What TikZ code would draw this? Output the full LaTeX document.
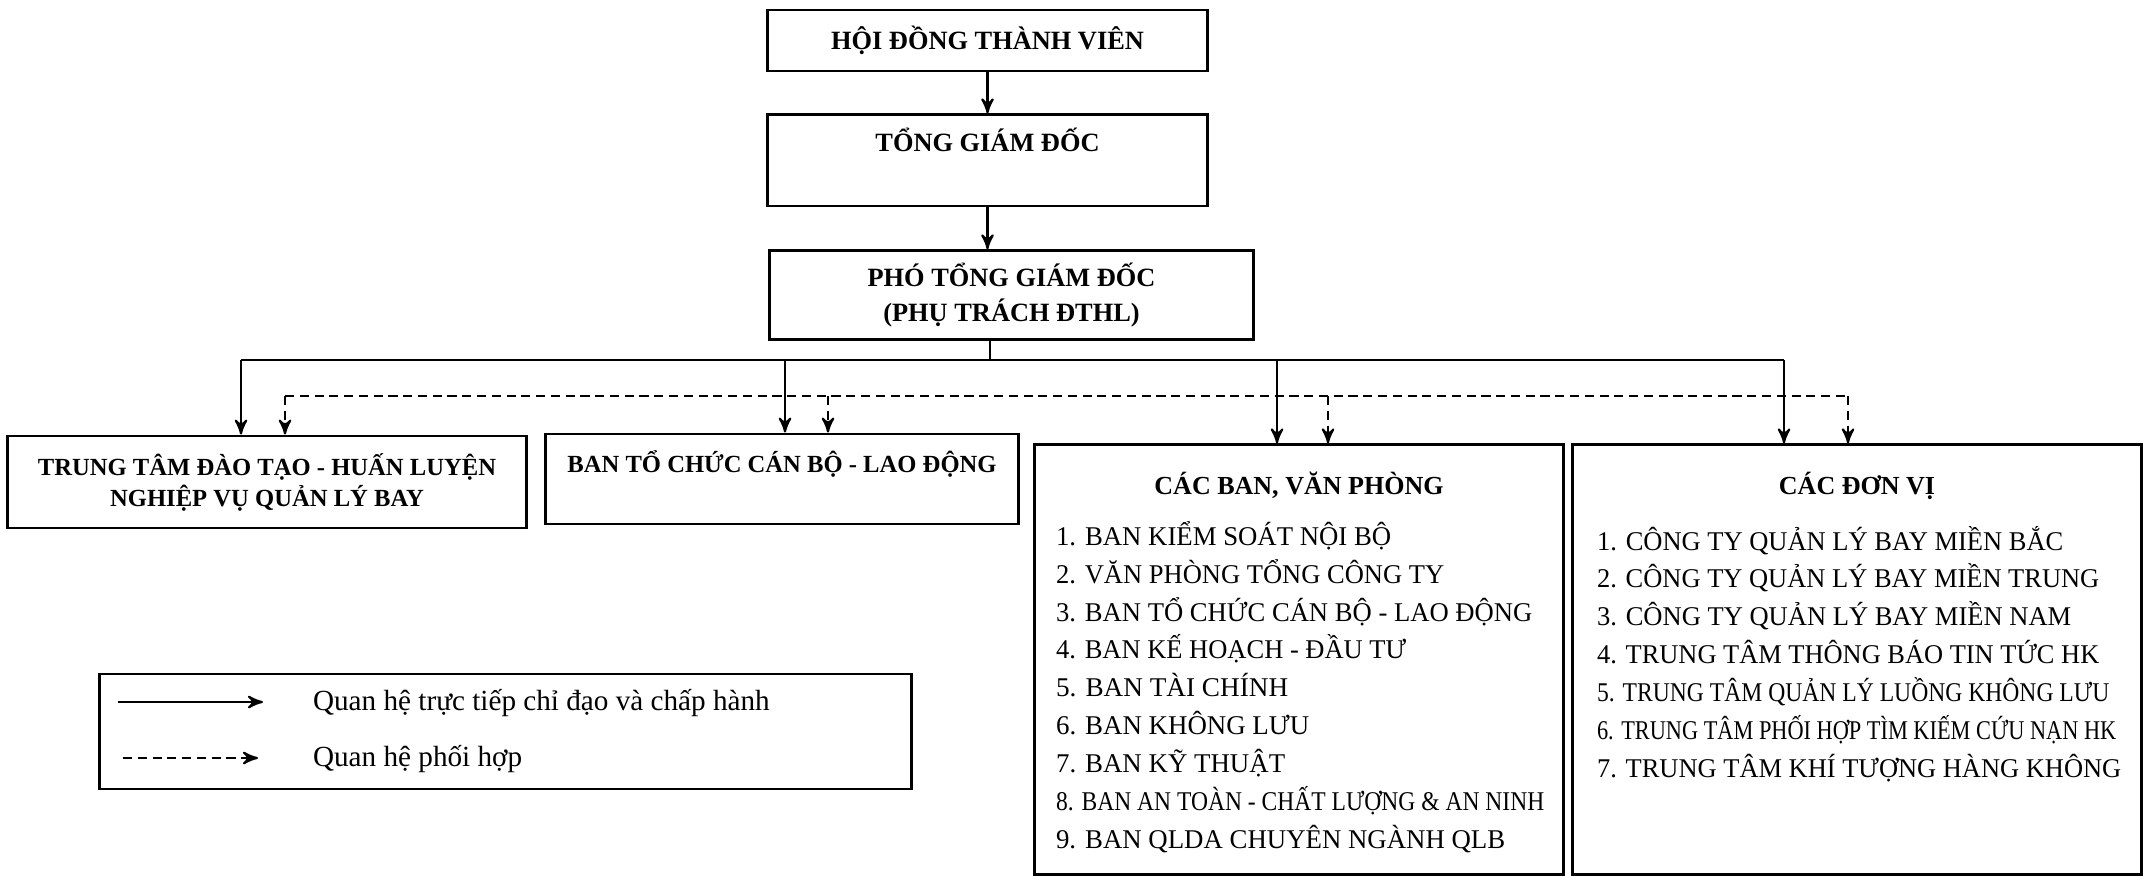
\documentclass[tikz,border=0pt]{standalone}
\usepackage{fontspec}
\setmainfont{Liberation Serif}
\usepackage{graphicx}
\usetikzlibrary{arrows,positioning}
\newcommand{\fitw}[2]{\resizebox{#1}{\height}{#2}}

\begin{document}
\begin{tikzpicture}[->,>=stealth',x=0.01cm,y=-0.01cm,line width=0.6pt,
                    unit/.style={draw,-,rectangle,line width=0.8pt,inner sep=0pt,
                                 align=center,font=\bfseries\fontsize{7.5}{10}\selectfont},
                    items/.style={align=left,inner sep=0pt,font=\fontsize{7.7}{10.75}\selectfont},
                    coop/.style={dash pattern=on 2.6pt off 1.6pt}]

        \useasboundingbox (0,0) rectangle (2151,876);

        \node[unit,minimum width=4.39cm,minimum height=0.61cm] (hdtv) at (987.5,40.5) {HỘI ĐỒNG THÀNH VIÊN};
        \node[unit,minimum width=4.40cm,minimum height=0.91cm,font=\bfseries\fontsize{7.5}{11.7}\selectfont] (tgd) [below=0.41cm of hdtv] {TỔNG GIÁM ĐỐC\\~};
        \node[unit,minimum width=4.84cm,minimum height=0.89cm] (ptgd) [below=0.42cm of tgd.south west,anchor=north west,xshift=0.02cm] {PHÓ TỔNG GIÁM ĐỐC\\(PHỤ TRÁCH ĐTHL)};

        \node[unit,minimum width=5.18cm,minimum height=0.92cm,font=\bfseries\fontsize{7}{8.8}\selectfont] (ttdt) at (267,482) {TRUNG TÂM ĐÀO TẠO - HUẤN LUYỆN\\NGHIỆP VỤ QUẢN LÝ BAY};
        \node[unit,minimum width=4.72cm,minimum height=0.90cm,font=\bfseries\fontsize{7}{9.7}\selectfont] (tccb) at (782,479) {BAN TỔ CHỨC CÁN BỘ - LAO ĐỘNG\\~};
        \node[unit,minimum width=5.28cm,minimum height=4.29cm] (cacban) at (1299,659.5) {};
        \node[unit,minimum width=5.68cm,minimum height=4.29cm] (donvi) at (1857,659.5) {};

        % cac ban, van phong (base = last line)
        \node[inner sep=0pt,anchor=base,font=\bfseries\fontsize{7.4}{9}\selectfont] (cacbantit) at (1299,494) {CÁC BAN, VĂN PHÒNG};
        \node[items,anchor=base west] (cacbanlist) at (1055,848) {%
            \fitw{3.35cm}{1. BAN KIỂM SOÁT NỘI BỘ}\\
            \fitw{3.88cm}{2. VĂN PHÒNG TỔNG CÔNG TY}\\
            \fitw{4.76cm}{3. BAN TỔ CHỨC CÁN BỘ - LAO ĐỘNG}\\
            \fitw{3.50cm}{4. BAN KẾ HOẠCH - ĐẦU TƯ}\\
            \fitw{2.32cm}{5. BAN TÀI CHÍNH}\\
            \fitw{2.53cm}{6. BAN KHÔNG LƯU}\\
            \fitw{2.29cm}{7. BAN KỸ THUẬT}\\
            \fitw{4.88cm}{8. BAN AN TOÀN - CHẤT LƯỢNG \& AN NINH}\\
            \fitw{4.49cm}{9. BAN QLDA CHUYÊN NGÀNH QLB}};

        % cac don vi
        \node[inner sep=0pt,anchor=base,font=\bfseries\fontsize{7.4}{9}\selectfont] (donvitit) at (1857,494) {CÁC ĐƠN VỊ};
        \node[items,anchor=base west] (donvilist) at (1596,777) {%
            \fitw{4.66cm}{1. CÔNG TY QUẢN LÝ BAY MIỀN BẮC}\\
            \fitw{5.02cm}{2. CÔNG TY QUẢN LÝ BAY MIỀN TRUNG}\\
            \fitw{4.74cm}{3. CÔNG TY QUẢN LÝ BAY MIỀN NAM}\\
            \fitw{5.02cm}{4. TRUNG TÂM THÔNG BÁO TIN TỨC HK}\\
            \fitw{5.12cm}{5. TRUNG TÂM QUẢN LÝ LUỒNG KHÔNG LƯU}\\
            \fitw{5.19cm}{6. TRUNG TÂM PHỐI HỢP TÌM KIẾM CỨU NẠN HK}\\
            \fitw{5.24cm}{7. TRUNG TÂM KHÍ TƯỢNG HÀNG KHÔNG}};

        % chain of command
        \coordinate (hub) at (990,360);
        \coordinate (s4) at (241,360);
        \coordinate (s5) at (785,360);
        \coordinate (s6) at (1277,360);
        \coordinate (s7) at (1784,360);
        \draw (hdtv) -- (tgd);
        \draw (tgd.south) -- (tgd.south |- ptgd.north);
        \draw[-] (ptgd.south -| hub) -- (hub);
        \draw[-] (s4) -- (s7);
        \draw (s4) -- (s4 |- ttdt.north);
        \draw (s5) -- (s5 |- tccb.north);
        \draw (s6) -- (s6 |- cacban.north);
        \draw (s7) -- (s7 |- donvi.north);

        % coordination
        \coordinate (d4) at (285,396);
        \coordinate (d5) at (828,396);
        \coordinate (d6) at (1328,396);
        \coordinate (d7) at (1848,396);
        \draw[-,coop] (d4) -- (d7);
        \draw[coop] (d4) -- (d4 |- ttdt.north);
        \draw[coop] (d5) -- (d5 |- tccb.north);
        \draw[coop] (d6) -- (d6 |- cacban.north);
        \draw[coop] (d7) -- (d7 |- donvi.north);

        % legend
        \node[unit,minimum width=8.11cm,minimum height=1.15cm] (legend) at (505.5,731.5) {};
        \coordinate (l1a) at (118,702);
        \coordinate (l1b) at (263,702);
        \coordinate (l2a) at (123,758);
        \coordinate (l2b) at (258,758);
        \draw (l1a) -- (l1b);
        \draw[coop] (l2a) -- (l2b);
        \node[inner sep=0pt,anchor=base west,font=\fontsize{8.3}{10}\selectfont] (direct) at (312,710) {Quan hệ trực tiếp chỉ đạo và chấp hành};
        \node[inner sep=0pt,anchor=base west,font=\fontsize{8.3}{10}\selectfont] (coordi) at (312,766) {Quan hệ phối hợp};
      \end{tikzpicture}
\end{document}
